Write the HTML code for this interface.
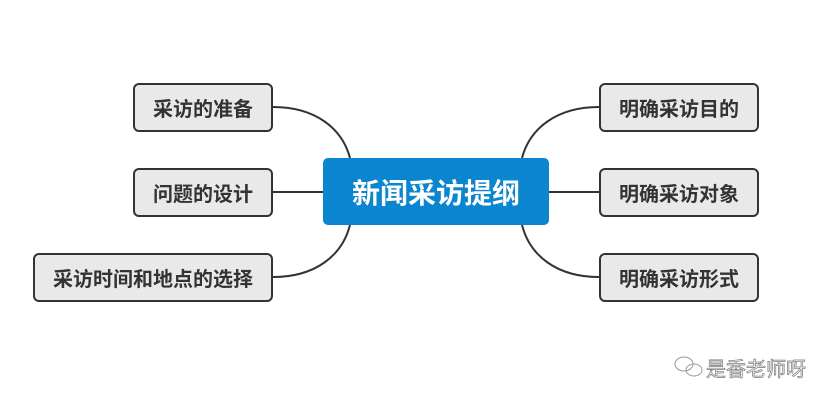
<!DOCTYPE html>
<html>
<head>
<meta charset="utf-8">
<style>
  html,body{margin:0;padding:0;background:#fff;}
  body{width:832px;height:403px;position:relative;overflow:hidden;font-family:"Liberation Sans","Noto Sans CJK SC",sans-serif;}
  svg{position:absolute;left:0;top:0;}
  .box{position:absolute;box-sizing:border-box;background:#e9e9e9;border:2px solid #333;border-radius:6px;
       display:flex;align-items:center;justify-content:center;font-size:20px;font-weight:bold;color:#333;white-space:nowrap;}
  .center{position:absolute;left:323px;top:158px;width:226px;height:67px;background:#0a85cf;border-radius:5px;
       display:flex;align-items:center;justify-content:center;font-size:28px;font-weight:bold;color:#fff;white-space:nowrap;}
  .wm{position:absolute;left:706px;top:353px;font-size:20px;color:#fff;-webkit-text-stroke:0.7px #777;white-space:nowrap;}
</style>
</head>
<body>
<svg width="832" height="403" viewBox="0 0 832 403">
  <g fill="none" stroke="#333" stroke-width="2">
    <path d="M273,107 C315,107 342,128 350,158"/>
    <path d="M273,192 L323,192"/>
    <path d="M273,277 C315,277 342,256 350,225"/>
    <path d="M599,107 C557,107 530,128 522,158"/>
    <path d="M549,192 L599,192"/>
    <path d="M599,277 C557,277 530,256 522,225"/>
  </g>
  <g fill="none" stroke="#999" stroke-width="1">
    <ellipse cx="684" cy="364" rx="9" ry="7"/>
    <ellipse cx="694" cy="370" rx="8" ry="6"/>
  </g>
</svg>

<div class="box" style="left:133px;top:83px;width:140px;height:49px;">采访的准备</div>
<div class="box" style="left:133px;top:168px;width:140px;height:49px;">问题的设计</div>
<div class="box" style="left:33px;top:253px;width:240px;height:49px;">采访时间和地点的选择</div>

<div class="center">新闻采访提纲</div>

<div class="box" style="left:599px;top:83px;width:160px;height:49px;">明确采访目的</div>
<div class="box" style="left:599px;top:168px;width:160px;height:49px;">明确采访对象</div>
<div class="box" style="left:599px;top:253px;width:160px;height:49px;">明确采访形式</div>

<div class="wm">是香老师呀</div>
</body>
</html>
